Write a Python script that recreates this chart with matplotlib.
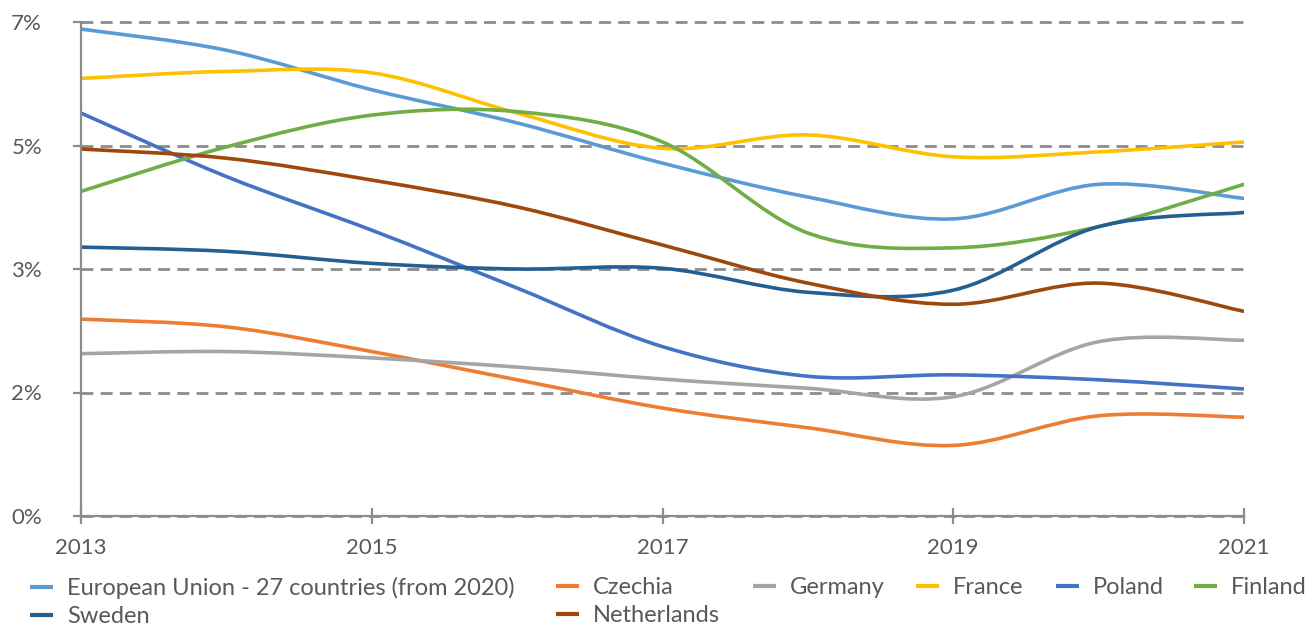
import numpy as np
import matplotlib
matplotlib.use("Agg")
import matplotlib.pyplot as plt
from matplotlib.path import Path
from matplotlib.patches import PathPatch
from matplotlib.lines import Line2D

plt.rcParams["font.family"] = ["Lato", "DejaVu Sans"]

years = [2013, 2014, 2015, 2016, 2017, 2018, 2019, 2020, 2021]

eu = [6.90, 6.60, 6.04, 5.57, 5.00, 4.52, 4.21, 4.70, 4.50]
czechia = [2.79, 2.68, 2.33, 1.93, 1.53, 1.25, 1.00, 1.42, 1.40]
germany = [2.30, 2.33, 2.24, 2.11, 1.94, 1.81, 1.69, 2.47, 2.49]
france = [6.20, 6.30, 6.28, 5.71, 5.21, 5.40, 5.09, 5.16, 5.30]
poland = [5.71, 4.81, 4.05, 3.23, 2.40, 1.98, 2.00, 1.93, 1.80]
finland = [4.60, 5.23, 5.68, 5.73, 5.30, 4.01, 3.80, 4.10, 4.70]
sweden = [3.81, 3.75, 3.58, 3.50, 3.51, 3.17, 3.20, 4.10, 4.30]
netherlands = [5.20, 5.07, 4.76, 4.38, 3.84, 3.30, 3.00, 3.30, 2.90]

series = [
    ("European Union - 27 countries (from 2020)", eu, "#5B9BD5"),
    ("Czechia", czechia, "#ED7D31"),
    ("Germany", germany, "#A5A5A5"),
    ("France", france, "#FFC000"),
    ("Poland", poland, "#4472C4"),
    ("Finland", finland, "#70AD47"),
    ("Sweden", sweden, "#255E91"),
    ("Netherlands", netherlands, "#9E480E"),
]

y_ticks = [0, 1.75, 3.5, 5.25, 7]
y_labels = ["0%", "2%", "3%", "5%", "7%"]
x_ticks = [2013, 2015, 2017, 2019, 2021]

GRID = "#8C8C8C"
TEXT = "#595959"
W, H = 1314, 630


def smooth_path(xs, ys):
    # Excel-style smoothed line: cubic Bezier segments (Catmull-Rom control points)
    p = np.column_stack([xs, ys]).astype(float)
    ext = np.vstack([p[0], p, p[-1]])
    verts = [p[0]]
    codes = [Path.MOVETO]
    for i in range(len(p) - 1):
        p0, p1, p2, p3 = ext[i], ext[i + 1], ext[i + 2], ext[i + 3]
        verts += [p1 + (p2 - p0) / 6, p2 - (p3 - p1) / 6, p2]
        codes += [Path.CURVE4] * 3
    return Path(verts, codes)


fig = plt.figure(figsize=(W / 100, H / 100), dpi=100)
ax = fig.add_axes([81 / W, 114 / H, (1244 - 81) / W, 494 / H])

handles = []
for name, vals, color in series:
    patch = PathPatch(smooth_path(years, vals), facecolor="none", edgecolor=color,
                      lw=2.6, capstyle="round", joinstyle="round", transform=ax.transData)
    ax.add_patch(patch)
    handles.append(Line2D([], [], color=color, lw=3, solid_capstyle="butt", label=name))

ax.set_xlim(2013, 2021)
ax.set_ylim(0, 7)
ax.set_yticks(y_ticks)
ax.set_yticklabels(y_labels)
ax.set_xticks(x_ticks)
ax.set_xticklabels([str(x) for x in x_ticks])

ax.yaxis.grid(True, color=GRID, lw=2, linestyle=(0, (4.3, 2.6)))
for gl in ax.get_ygridlines():
    gl.set_clip_on(False)
ax.set_axisbelow(True)

for s in ["top", "right"]:
    ax.spines[s].set_visible(False)
for s in ["left", "bottom"]:
    ax.spines[s].set_color(GRID)
    ax.spines[s].set_linewidth(1.6)

ax.tick_params(axis="y", length=6, width=1.6, color=GRID, pad=22, labelsize=16, labelcolor=TEXT)
ax.tick_params(axis="x", direction="inout", length=12, width=1.6, color=GRID, pad=10,
               labelsize=16, labelcolor=TEXT)

# legend laid out in Excel-style columns: (left x of key, entries)
legend_cols = [(30, [0, 6]), (556, [1, 7]), (753, [2]), (916, [3]), (1056, [4]), (1194, [5])]
for x0, idx in legend_cols:
    fig.legend([handles[i] for i in idx], [handles[i].get_label() for i in idx],
               loc="upper left", bbox_to_anchor=(x0 / W, 1 - 577 / H),
               frameon=False, fontsize=17, labelcolor=TEXT, handlelength=0.97,
               handletextpad=0.6, labelspacing=0.3, borderpad=0, borderaxespad=0)

fig.savefig("out.png", dpi=100)
